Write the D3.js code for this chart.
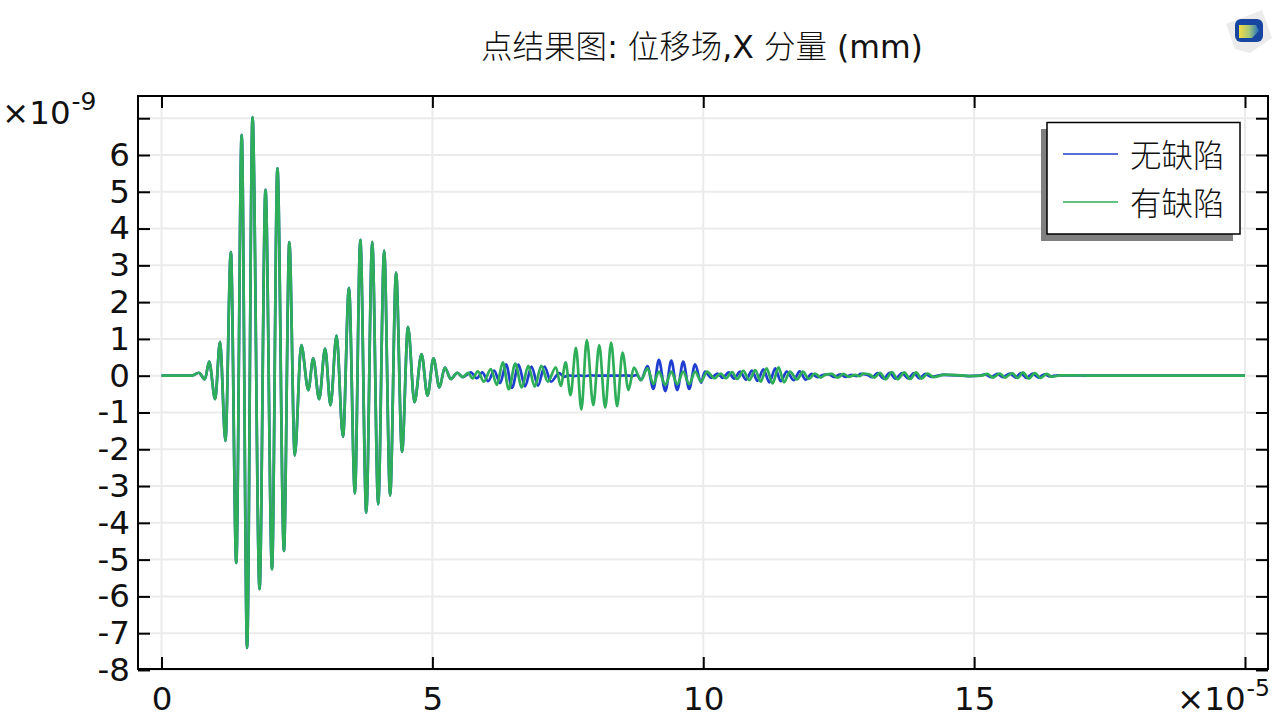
<!DOCTYPE html>
<html><head><meta charset="utf-8">
<script src="https://cdn.jsdelivr.net/npm/d3@7"></script>
<style>html,body{margin:0;padding:0;background:#fff;overflow:hidden}svg{display:block}
text{font-family:"DejaVu Sans",sans-serif;fill:#111}</style></head><body>
<svg id="c" width="1280" height="720"></svg>
<script>
const titleText = "点结果图: 位移场,X 分量 (mm)";
const seriesNames = ["无缺陷", "有缺陷"];
const xTicks = [0, 5, 10, 15, 20];
const xTickLabels = ["0", "5", "10", "15", ""];
const yTicks = [7, 6, 5, 4, 3, 2, 1, 0, -1, -2, -3, -4, -5, -6, -7, -8];
const yTickLabels = ["", "6", "5", "4", "3", "2", "1", "0", "-1", "-2", "-3", "-4", "-5", "-6", "-7", "-8"];
const timesWithDefect = [0,0.56,0.69,0.80,0.88,0.99,1.08,1.18,1.28,1.38,1.48,1.58,1.68,1.81,1.92,2.04,2.14,2.26,2.36,2.46,2.58,2.71,2.80,2.91,3.02,3.12,3.23,3.35,3.46,3.57,3.67,3.78,3.89,4.00,4.11,4.22,4.33,4.44,4.55,4.67,4.80,4.91,5.02,5.13,5.23,5.34,5.46,5.56,5.66,5.74,5.84,5.95,6.08,6.19,6.30,6.41,6.53,6.65,6.77,6.89,7.01,7.13,7.28,7.37,7.46,7.55,7.65,7.75,7.85,7.97,8.08,8.19,8.30,8.41,8.51,8.62,8.72,8.85,8.97,9.08,9.18,9.30,9.41,9.52,9.63,9.74,9.85,9.96,10.07,10.21,10.32,10.42,10.53,10.63,10.74,10.85,10.96,11.06,11.17,11.28,11.39,11.49,11.60,11.73,11.84,11.95,12.06,12.17,12.26,12.37,12.48,12.59,12.68,12.80,12.89,12.95,13.06,13.16,13.26,13.37,13.48,13.59,13.71,13.82,13.93,14.03,14.14,14.25,14.46,14.74,14.92,15.14,15.24,15.35,15.47,15.57,15.70,15.81,15.90,16.01,16.12,16.23,16.34,16.44,16.59,16.86,17.14,20];
const timesWithoutDefect = [0,0.56,0.69,0.80,0.88,0.99,1.08,1.18,1.28,1.38,1.48,1.58,1.68,1.81,1.92,2.04,2.14,2.26,2.36,2.46,2.58,2.71,2.80,2.91,3.02,3.12,3.23,3.35,3.46,3.57,3.67,3.78,3.89,4.00,4.11,4.22,4.33,4.44,4.55,4.67,4.80,4.91,5.02,5.13,5.23,5.34,5.46,5.56,5.71,5.82,5.92,6.03,6.14,6.25,6.36,6.47,6.59,6.71,6.83,6.95,7.07,7.19,7.34,7.43,7.52,7.61,7.71,7.81,7.91,8.03,8.14,8.25,8.36,8.47,8.57,8.68,8.78,8.85,8.97,9.08,9.18,9.30,9.41,9.52,9.63,9.74,9.85,9.96,10.03,10.15,10.26,10.36,10.47,10.57,10.68,10.79,10.90,11.00,11.11,11.22,11.33,11.43,11.54,11.67,11.78,11.89,12.00,12.11,12.20,12.31,12.42,12.53,12.62,12.74,12.83,12.91,13.02,13.12,13.22,13.33,13.44,13.55,13.67,13.78,13.89,13.99,14.10,14.21,14.42,14.70,14.88,15.10,15.20,15.31,15.43,15.53,15.66,15.77,15.86,15.97,16.08,16.19,16.30,16.40,16.55,16.82,17.10,20];
const withDefect = [0,0,0.08,-0.10,0.38,-0.64,0.92,-1.77,3.36,-5.09,6.55,-7.40,7.03,-5.80,5.05,-5.26,5.64,-4.76,3.63,-2.17,0.83,-0.39,0.47,-0.64,0.74,-0.80,1.09,-1.66,2.39,-3.20,3.69,-3.72,3.64,-3.50,3.40,-3.26,2.80,-2.07,1.33,-0.72,0.59,-0.54,0.47,-0.32,0.22,-0.09,0.08,-0.04,0.08,-0.07,0.12,-0.16,0.18,-0.25,0.36,-0.37,0.33,-0.32,0.27,-0.30,0.27,-0.16,0.23,-0.28,0.36,-0.53,0.76,-0.92,0.97,-0.80,0.83,-0.87,0.90,-0.83,0.63,-0.39,0.22,-0.12,0.20,-0.23,0.11,-0.25,0.11,-0.23,0.11,-0.23,0.11,-0.16,0.11,-0.07,0.06,-0.07,0.10,-0.09,0.13,-0.12,0.15,-0.16,0.20,-0.21,0.23,-0.18,0.11,-0.10,0.11,-0.09,0.06,-0.05,0.03,0.05,-0.05,0.05,-0.03,0.02,-0.01,0.06,0.04,-0.05,0.08,-0.10,0.10,-0.10,0.09,-0.09,0.09,-0.08,0.06,-0.04,0.03,0.01,-0.01,0,0.05,-0.05,0.06,-0.05,0.07,-0.06,0.09,-0.08,0.07,-0.06,0.05,-0.03,0.01,0.01,0,0,0];
const withoutDefect = [0,0,0.08,-0.10,0.38,-0.64,0.92,-1.77,3.36,-5.09,6.55,-7.40,7.03,-5.80,5.05,-5.26,5.64,-4.76,3.63,-2.17,0.83,-0.39,0.47,-0.64,0.74,-0.80,1.09,-1.66,2.39,-3.20,3.69,-3.72,3.64,-3.50,3.40,-3.26,2.80,-2.07,1.33,-0.72,0.59,-0.54,0.47,-0.32,0.22,-0.09,0.08,-0.04,0.09,-0.07,0.09,-0.15,0.14,-0.20,0.31,-0.33,0.30,-0.29,0.25,-0.27,0.25,-0.16,0.07,-0.03,0.01,-0.01,0.01,-0.01,0.01,0,0,0,0,0,0.01,-0.01,0.02,-0.12,0.26,-0.36,0.43,-0.42,0.41,-0.39,0.38,-0.36,0.31,-0.19,0.11,-0.06,0.06,-0.06,0.09,-0.08,0.11,-0.11,0.14,-0.14,0.17,-0.18,0.20,-0.15,0.11,-0.12,0.12,-0.11,0.05,-0.04,0.02,0.04,-0.04,0.04,-0.03,0.02,-0.01,0.05,0.03,-0.04,0.07,-0.08,0.08,-0.08,0.07,-0.07,0.07,-0.07,0.05,-0.03,0.02,0.01,-0.01,0,0.04,-0.04,0.05,-0.04,0.06,-0.05,0.07,-0.06,0.06,-0.05,0.04,-0.02,0.01,0.01,0,0,0];

const svg = d3.select("#c");
const box = {l:138, r:1268, t:96, b:669};
const x = d3.scaleLinear().domain([0, 20]).range([161.5, 1245]);
const y = d3.scaleLinear().domain([0, 6]).range([375.7, 155]);
const tickLen = 12, fs = 32.5;

const grid = svg.append("g").attr("stroke", "#ebebeb").attr("stroke-width", 2);
grid.selectAll("line.v").data(xTicks).join("line").attr("class","v")
  .attr("x1", d=>x(d)).attr("x2", d=>x(d)).attr("y1", box.t).attr("y2", box.b);
grid.selectAll("line.h").data(yTicks).join("line").attr("class","h")
  .attr("y1", d=>y(d)).attr("y2", d=>y(d)).attr("x1", box.l).attr("x2", box.r);

const colors = ["#1f3ecf", "#2eae58"];
[[timesWithoutDefect, withoutDefect], [timesWithDefect, withDefect]].forEach(([ts, s], i)=>{
  const line = d3.line().x((d,k)=>x(ts[k])).y(d=>y(d)).curve(d3.curveMonotoneX);
  svg.append("path").attr("d", line(s)).attr("fill","none")
    .attr("stroke", colors[i]).attr("stroke-width", 2.7).attr("stroke-linejoin","round");
});

function style(g){ g.select(".domain").remove();
  g.selectAll("line").attr("stroke","#000").attr("stroke-width",2);
  g.selectAll("text").style("font-size",fs+"px").style("font-family",'"DejaVu Sans",sans-serif').attr("fill","#111"); }
const axB = d3.axisBottom(x).tickValues(xTicks).tickSize(-tickLen).tickPadding(18).tickFormat((d,i)=>xTickLabels[i]);
svg.append("g").attr("transform",`translate(0,${box.b})`).call(axB).call(style);
const axT = d3.axisTop(x).tickValues(xTicks).tickSize(-tickLen).tickFormat("");
svg.append("g").attr("transform",`translate(0,${box.t})`).call(axT).call(style);
const axL = d3.axisLeft(y).tickValues(yTicks).tickSize(-tickLen).tickPadding(8).tickFormat((d,i)=>yTickLabels[i]);
svg.append("g").attr("transform",`translate(${box.l},0)`).call(axL).call(style);
const axR = d3.axisRight(y).tickValues(yTicks).tickSize(-tickLen).tickFormat("");
svg.append("g").attr("transform",`translate(${box.r},0)`).call(axR).call(style);
svg.append("rect").attr("x",box.l).attr("y",box.t).attr("width",box.r-box.l).attr("height",box.b-box.t)
  .attr("fill","none").attr("stroke","#000").attr("stroke-width",2);

function mult(xp, yp, exp, sup){
  const t = svg.append("text").attr("x",xp).attr("y",yp).style("font-size",fs+"px");
  t.append("tspan").text("×10");
  t.append("tspan").attr("dy",-14).attr("dx",1).style("font-size",sup+"px").text(exp);
}
mult(2, 124, "-9", 25);
mult(1177, 710, "-5", 23.5);

const tt = svg.append("text").attr("x",702).attr("y",58).attr("text-anchor","middle").style("font-size","31.5px");
titleText.match(/[\u4e00-\u9fff]+|[^\u4e00-\u9fff]+/g).forEach(run=>{
  const cjk = /[\u4e00-\u9fff]/.test(run);
  tt.append("tspan").text(run).attr("xml:space","preserve").style("white-space","pre")
    .style("font-family", cjk ? '"Noto Sans CJK SC",sans-serif' : '"DejaVu Sans",sans-serif')
    .style("font-weight", cjk ? 300 : 400);
});

svg.append("rect").attr("x",1041).attr("y",129).attr("width",192).attr("height",112).attr("fill","#808080");
svg.append("rect").attr("x",1047).attr("y",122.5).attr("width",193).attr("height",111.5)
  .attr("fill","#fff").attr("stroke","#000").attr("stroke-width",1.5);
const legY = [154, 202], legBase = [167, 215];
seriesNames.forEach((n,i)=>{
  svg.append("line").attr("x1",1063).attr("x2",1118).attr("y1",legY[i]).attr("y2",legY[i])
    .attr("stroke",colors[i]).attr("stroke-width",1.4);
  svg.append("text").attr("x",1130).attr("y",legBase[i]).style("font-size","31.5px")
    .style("font-family",'"Noto Sans CJK SC",sans-serif').style("font-weight",300).text(n);
});

const defs = svg.append("defs");
const gr = defs.append("linearGradient").attr("id","lg").attr("x1",0).attr("x2",1).attr("y1",0).attr("y2",0);
gr.append("stop").attr("offset",0).attr("stop-color","#f5dc45");
gr.append("stop").attr("offset",0.5).attr("stop-color","#a8c878");
gr.append("stop").attr("offset",1).attr("stop-color","#1f6fc0");
const logo = svg.append("g");
logo.append("path").attr("d","M1226 24 L1262 10 L1272 38 L1250 53 L1235 49 Z").attr("fill","#ebebeb");
logo.append("rect").attr("x",1235).attr("y",19).attr("width",28).attr("height",23).attr("rx",6).attr("fill","#17459f");
logo.append("path").attr("d","M1239 25 L1256 25 L1259 31 L1252 38 L1239 38 Z").attr("fill","url(#lg)");
</script></body></html>
